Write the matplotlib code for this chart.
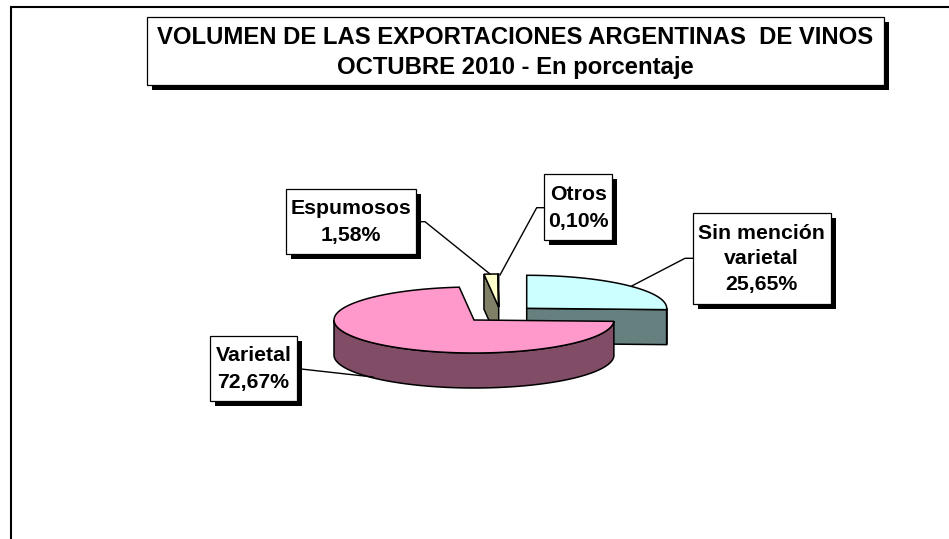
import numpy as np
import matplotlib
matplotlib.use("Agg")
import matplotlib.pyplot as plt
from matplotlib.patches import Polygon, Rectangle

plt.rcParams['font.family'] = ['Liberation Sans', 'DejaVu Sans']

# --- data ---
categories = ["Sin mención\nvarietal", "Varietal", "Espumosos", "Otros"]
values = [25.65, 72.67, 1.58, 0.10]
value_labels = ["25,65%", "72,67%", "1,58%", "0,10%"]
title_lines = "VOLUMEN DE LAS EXPORTACIONES ARGENTINAS  DE VINOS\nOCTUBRE 2010 - En porcentaje"

# --- styles ---
top_cols = ["#CCFFFF", "#FF99CC", "#FFFFCC", "#FFFFCC"]
side_cols = ["#668080", "#804C66", "#808066", "#808066"]

W, H = 949, 539
fig = plt.figure(figsize=(W / 100, H / 100), dpi=100, facecolor="white")
ax = fig.add_axes([0, 0, 1, 1])
ax.set_xlim(0, W)
ax.set_ylim(H, 0)
ax.axis("off")

RX, RY, DEPTH = 140, 33, 35
centers = [(526.7, 308.3), (474, 320), (498.7, 307), (498.7, 307)]

fr = np.cumsum([0] + values) / sum(values) * 2 * np.pi


def rim(c, a, b, n=120):
    t = np.linspace(a, b, n)
    return np.column_stack([c[0] + RX * np.sin(t), c[1] - RY * np.cos(t)])


def draw_slice(i, z):
    c = np.array(centers[i], float)
    a, b = fr[i], fr[i + 1]
    down = np.array([0, DEPTH])
    edge = rim(c, a, b)
    # outer wall: only the part of the rim facing the viewer
    lo, hi = max(a, np.pi / 2), min(b, 3 * np.pi / 2)
    if hi > lo:
        front = rim(c, lo, hi)
        ax.add_patch(Polygon(np.vstack([front, front[::-1] + down]), closed=True,
                             fc=side_cols[i], ec="black", lw=1.1, zorder=z))
    # cut walls facing the viewer
    if i == 0:
        p = edge[-1]
        ax.add_patch(Polygon([c, p, p + down, c + down], closed=True,
                             fc=side_cols[i], ec="black", lw=1.1, zorder=z))
    if i == 2:
        p = edge[0]
        ax.add_patch(Polygon([p, c, c + down, p + down], closed=True,
                             fc=side_cols[i], ec="black", lw=1.1, zorder=z))
    ax.add_patch(Polygon(np.vstack([c, edge]), closed=True,
                         fc=top_cols[i], ec="black", lw=1.1, zorder=z + 0.1))


draw_slice(2, 2)
draw_slice(3, 2.2)
draw_slice(0, 3)
draw_slice(1, 4)

# frame
ax.plot([11.3, 11.3, W], [H, 6.5, 6.5], color="black", lw=1.5, solid_joinstyle="miter", zorder=1)


def box(x0, y0, x1, y1, txt, fs, ls, shadow=5, dy=0.0):
    ax.add_patch(Rectangle((x0 + shadow, y0 + shadow), x1 - x0, y1 - y0, fc="black", ec="black", lw=0, zorder=6))
    ax.add_patch(Rectangle((x0, y0), x1 - x0, y1 - y0, fc="white", ec="black", lw=0.9, zorder=7))
    ax.text((x0 + x1) / 2, (y0 + y1) / 2 + dy, txt, ha="center", va="center", ma="center",
            fontsize=fs, fontweight="bold", color="black", linespacing=ls, zorder=8)


def leader(pts):
    xs, ys = zip(*pts)
    ax.plot(xs, ys, color="black", lw=1.0, zorder=5)


box(147, 17, 884, 85, title_lines, 17.2, 1.35, dy=1.5)
box(692.7, 212.7, 830.7, 304, f"{categories[0]}\n{value_labels[0]}", 15.3, 1.42, dy=0.5)
box(210, 335.7, 296.7, 401, f"{categories[1]}\n{value_labels[1]}", 15.3, 1.5, dy=0.5)
box(285.7, 189, 415.7, 254, f"{categories[2]}\n{value_labels[2]}", 15.3, 1.58, dy=0.5)
box(544, 174.3, 612.3, 240, f"{categories[3]}\n{value_labels[3]}", 15.3, 1.5, dy=1)

leader([(692.7, 258.3), (685, 258.3), (631.7, 286)])
leader([(420, 221.7), (425, 221.7), (490, 274)])
leader([(544, 207.7), (536.7, 207.7), (500, 275)])
leader([(301, 369), (373, 377)])

fig.savefig("out.png", dpi=100, facecolor="white")
